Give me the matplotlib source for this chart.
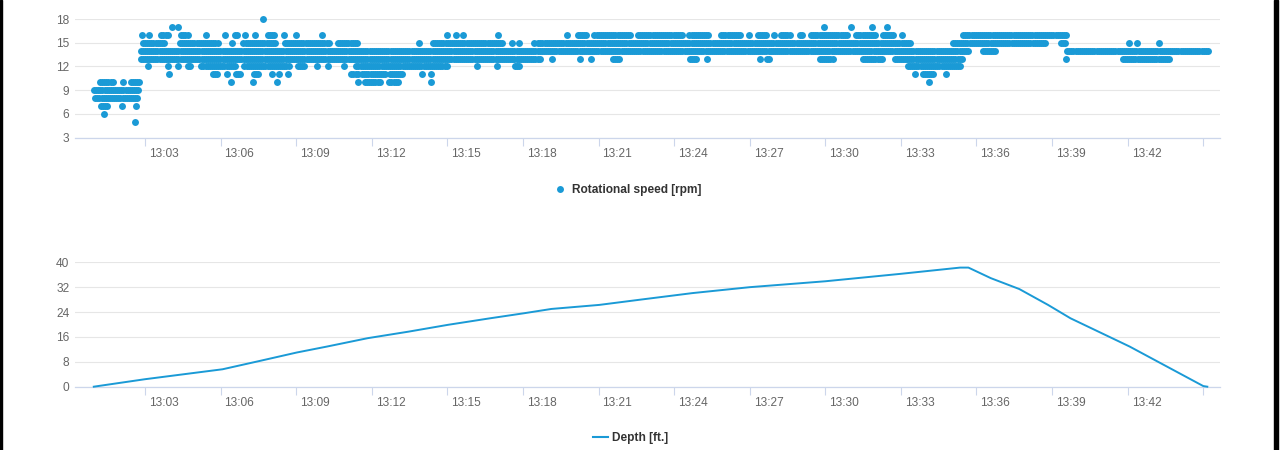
"""Rotational speed scatter and depth line, two stacked panels sharing a time axis."""

import matplotlib.pyplot as plt
import numpy as np
from matplotlib.lines import Line2D
from matplotlib.patches import Rectangle
from matplotlib.transforms import ScaledTranslation

plt.rcParams["font.family"] = ["Liberation Sans", "DejaVu Sans"]

BLUE = "#1A9AD6"
GRID = "#e6e6e6"
AXIS = "#ccd6eb"
TICK_TEXT = "#666666"
LEGEND_TEXT = "#333333"

# time is minutes after 13:00; samples come every 5 s
SAMPLE_STEP_MIN = 5 / 60

# rotational speed [rpm]: runs of contiguous samples per level, (first, last) minute
rpm_18 = [(7.70, 7.70)]
rpm_17 = [(4.08, 4.08), (4.31, 4.31), (29.96, 29.96), (31.04, 31.04),
          (31.84, 31.84), (32.46, 32.46)]
rpm_16 = [(2.87, 2.87), (3.16, 3.16), (3.65, 3.94), (4.44, 4.73), (5.43, 5.43),
          (6.17, 6.17), (6.56, 6.65), (6.97, 6.97), (7.38, 7.44), (7.88, 8.17),
          (8.53, 8.53), (9.00, 9.00), (10.04, 10.04), (15.00, 15.00),
          (15.33, 15.33), (15.63, 15.63), (17.02, 17.02), (19.73, 19.73),
          (20.18, 20.54), (20.84, 22.26), (22.56, 24.31), (24.61, 25.43),
          (25.87, 26.69), (26.97, 26.97), (27.33, 27.68), (27.97, 27.97),
          (28.25, 28.61), (28.98, 29.07), (29.44, 30.86), (31.23, 31.98),
          (32.29, 32.78), (33.03, 33.03), (35.47, 39.56)]
rpm_15 = [(2.92, 3.81), (4.38, 5.92), (6.47, 6.47), (6.91, 8.24), (8.54, 10.29),
          (10.66, 11.48), (13.89, 13.89), (14.43, 17.23), (17.58, 17.58),
          (17.86, 17.86), (18.44, 18.44), (18.61, 33.37), (35.06, 38.73),
          (39.36, 39.56), (42.06, 42.06), (42.38, 42.38), (43.26, 43.32)]
rpm_14 = [(2.83, 35.68), (36.25, 36.78), (39.60, 45.23)]
rpm_13 = [(2.83, 18.69), (19.14, 19.14), (20.26, 20.26), (20.69, 20.69),
          (21.58, 21.85), (24.63, 24.89), (25.29, 25.29), (27.41, 27.41),
          (27.67, 27.82), (29.79, 30.33), (31.49, 32.31), (32.75, 35.49),
          (39.57, 39.57), (41.81, 43.69)]
rpm_12 = [(3.13, 3.13), (3.91, 3.91), (4.32, 4.32), (4.71, 4.87), (5.24, 6.58),
          (6.95, 8.70), (9.07, 9.36), (9.81, 9.81), (10.28, 10.28),
          (10.91, 10.91), (11.39, 14.98), (16.19, 16.19), (16.96, 16.96),
          (17.67, 17.89), (33.28, 35.41)]
rpm_11 = [(3.97, 3.97), (5.70, 5.92), (6.27, 6.27), (6.62, 6.85), (7.31, 7.51),
          (8.03, 8.03), (8.32, 8.32), (8.66, 8.66), (11.19, 11.45),
          (11.62, 12.55), (12.72, 13.27), (13.98, 13.98), (14.35, 14.35),
          (33.56, 33.56), (33.87, 34.36), (34.81, 34.81)]
rpm_10 = [(1.22, 1.72), (2.12, 2.12), (2.44, 2.81), (6.41, 6.41), (7.30, 7.30),
          (8.25, 8.25), (11.45, 11.45), (11.73, 12.34), (12.70, 13.07),
          (14.35, 14.35), (34.12, 34.12)]
rpm_9 = [(0.98, 2.81)]
rpm_8 = [(1.03, 2.75)]
rpm_7 = [(1.25, 1.57), (2.07, 2.07), (2.64, 2.64)]
rpm_6 = [(1.39, 1.39)]
rpm_5 = [(2.60, 2.60)]

rpm_levels = [18, 17, 16, 15, 14, 13, 12, 11, 10, 9, 8, 7, 6, 5]
rpm_runs = [rpm_18, rpm_17, rpm_16, rpm_15, rpm_14, rpm_13, rpm_12, rpm_11,
            rpm_10, rpm_9, rpm_8, rpm_7, rpm_6, rpm_5]

# depth [ft.]
depth_min = [0.97, 3.0, 4.54, 6.08, 7.62, 9.03, 10.22, 11.84, 13.46, 15.03,
             16.7, 18.03, 19.13, 21.03, 22.67, 24.73, 27.0, 30.0, 33.0, 35.35,
             35.68, 36.57, 37.7, 38.84, 39.73, 42.08, 45.0, 45.16]
depth_ft = [0, 2.4, 4.0, 5.6, 8.4, 11.0, 12.9, 15.6, 17.7, 19.9, 22.0, 23.6,
            25.0, 26.3, 28.0, 30.1, 32.0, 33.9, 36.3, 38.3, 38.3, 34.9, 31.4,
            26.3, 22.0, 12.9, 0.2, 0]

x_ticks = [3, 6, 9, 12, 15, 18, 21, 24, 27, 30, 33, 36, 39, 42, 45]
x_tick_labels = ["13:03", "13:06", "13:09", "13:12", "13:15", "13:18", "13:21",
                 "13:24", "13:27", "13:30", "13:33", "13:36", "13:39", "13:42", ""]
rpm_ticks = [3, 6, 9, 12, 15, 18]
depth_ticks = [0, 8, 16, 24, 32, 40]


def _expand_runs(runs, level):
    xs = []
    for first, last in runs:
        xs.extend(np.arange(first, last + 1e-6, SAMPLE_STEP_MIN))
    return np.array(xs), np.full(len(xs), level)


def _style_axis(ax, fig, y_ticks):
    ax.set_xlim(0.222, 45.66)
    ax.set_xticks(x_ticks, x_tick_labels)
    ax.set_yticks(y_ticks)
    ax.set_ylim(y_ticks[0], y_ticks[-1])
    ax.grid(axis="y", color=GRID, linewidth=0.8)
    ax.set_axisbelow(True)
    for side in ("top", "right", "left"):
        ax.spines[side].set_visible(False)
    ax.spines["bottom"].set_color(AXIS)
    ax.spines["bottom"].set_linewidth(0.9)
    ax.tick_params(axis="x", direction="out", length=5.8, width=0.8,
                   color=AXIS, labelcolor=TICK_TEXT, labelsize=8.6, pad=1.5)
    ax.tick_params(axis="y", length=0, labelcolor=TICK_TEXT, labelsize=8.6, pad=4)
    shift = ScaledTranslation(4 / 100, 0, fig.dpi_scale_trans)
    for label in ax.get_xticklabels():
        label.set_horizontalalignment("left")
        label.set_transform(label.get_transform() + shift)


def main() -> None:
    fig = plt.figure(figsize=(12.81, 4.50), dpi=100)
    ax_rpm = fig.add_axes([0.0585, 0.6944, 0.8938, 0.2633])
    ax_depth = fig.add_axes([0.0585, 0.1407, 0.8938, 0.2764])

    for runs, level in zip(rpm_runs, rpm_levels):
        xs, ys = _expand_runs(runs, level)
        ax_rpm.scatter(xs, ys, s=25, color=BLUE, linewidths=0, clip_on=False, zorder=3)
    _style_axis(ax_rpm, fig, rpm_ticks)

    ax_depth.plot(depth_min, depth_ft, color=BLUE, linewidth=1.4, clip_on=False,
                  zorder=3, solid_joinstyle="round")
    _style_axis(ax_depth, fig, depth_ticks)

    legend_font = {"weight": "bold", "size": 8.6}
    rpm_handle = Line2D([], [], linestyle="none", marker="o", markersize=5,
                        color=BLUE, markeredgewidth=0)
    fig.legend([rpm_handle], ["Rotational speed [rpm]"], loc="center",
               bbox_to_anchor=(0.4905, 0.578), frameon=False, prop=legend_font,
               labelcolor=LEGEND_TEXT, handlelength=0.8, handletextpad=0.6)
    depth_handle = Line2D([], [], color=BLUE, linewidth=1.5)
    fig.legend([depth_handle], ["Depth [ft.]"], loc="center",
               bbox_to_anchor=(0.4922, 0.027), frameon=False, prop=legend_font,
               labelcolor=LEGEND_TEXT, handlelength=1.2, handletextpad=0.35)

    # dark frame edges of the captured window
    fig.patches.append(Rectangle((0, 0), 2 / 1281, 1, transform=fig.transFigure,
                                 color="black", zorder=10))
    fig.patches.append(Rectangle((1274 / 1281, 0), 4 / 1281, 1, transform=fig.transFigure,
                                 color="black", zorder=10))

    fig.savefig("out.png", dpi=100)
    plt.close(fig)


if __name__ == "__main__":
    main()
